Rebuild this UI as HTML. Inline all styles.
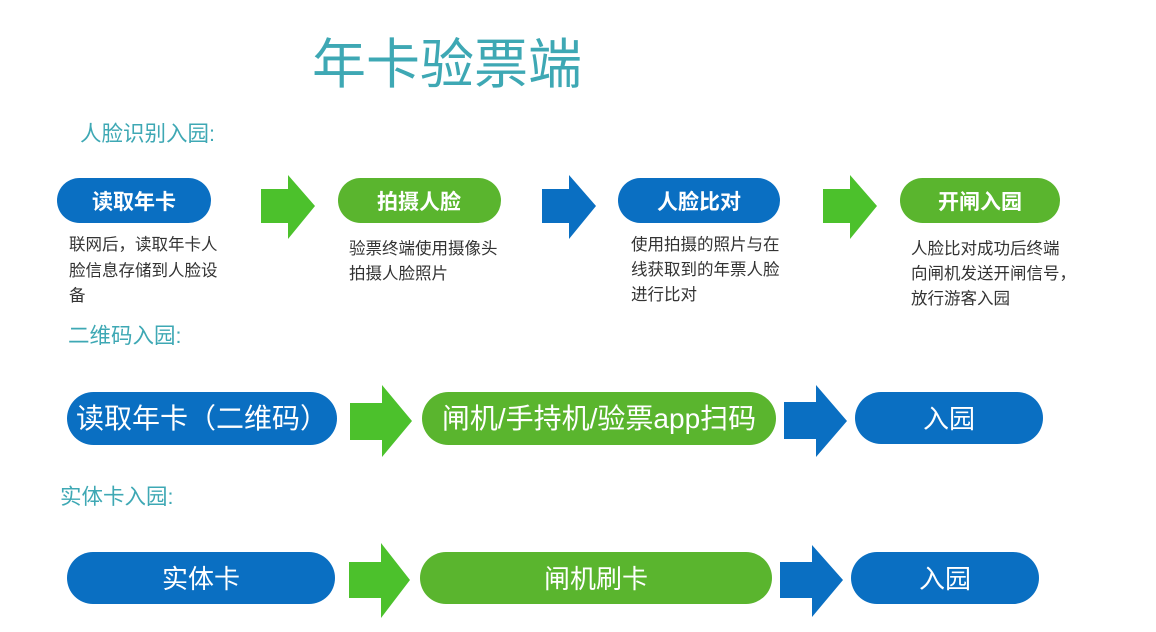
<!DOCTYPE html>
<html><head><meta charset="utf-8"><style>
body{margin:0;background:#fff;width:1156px;height:627px;overflow:hidden;font-family:"Liberation Sans","Noto Sans CJK SC",sans-serif}
svg text{font-family:"Liberation Sans","Noto Sans CJK SC",sans-serif}
</style></head><body>
<svg width="1156" height="627" xmlns="http://www.w3.org/2000/svg">
<text x="312" y="83" font-size="54" fill="#3ea8b4">年卡验票端</text>
<text x="80" y="141" font-size="21.5" fill="#3ea8b4">人脸识别入园:</text>
<text x="68" y="343" font-size="21.5" fill="#3ea8b4">二维码入园:</text>
<text x="60" y="504" font-size="21.5" fill="#3ea8b4">实体卡入园:</text>

<!-- row1 -->
<rect x="57" y="178" width="154" height="45" rx="22.5" fill="#0a6fc2"/>
<text x="134" y="209" font-size="21" font-weight="bold" fill="#fff" text-anchor="middle">读取年卡</text>
<polygon points="261,189 288,189 288,175 315,206 288,239 288,223 261,223" fill="#4cc12c"/>
<rect x="338" y="178" width="163" height="45" rx="22.5" fill="#5ab52e"/>
<text x="419" y="209" font-size="21" font-weight="bold" fill="#fff" text-anchor="middle">拍摄人脸</text>
<polygon points="542,189 569,189 569,175 596,206 569,239 569,223 542,223" fill="#0a6fc2"/>
<rect x="618" y="178" width="162" height="45" rx="22.5" fill="#0a6fc2"/>
<text x="699" y="209" font-size="21" font-weight="bold" fill="#fff" text-anchor="middle">人脸比对</text>
<polygon points="823,189 850,189 850,175 877,206 850,239 850,223 823,223" fill="#4cc12c"/>
<rect x="900" y="178" width="160" height="45" rx="22.5" fill="#5ab52e"/>
<text x="980" y="209" font-size="21" font-weight="bold" fill="#fff" text-anchor="middle">开闸入园</text>

<g font-size="16.5" fill="#333">
<text x="69" y="250">联网后，读取年卡人</text>
<text x="69" y="276">脸信息存储到人脸设</text>
<text x="69" y="301">备</text>
<text x="349" y="254">验票终端使用摄像头</text>
<text x="349" y="279">拍摄人脸照片</text>
<text x="631" y="250">使用拍摄的照片与在</text>
<text x="631" y="275">线获取到的年票人脸</text>
<text x="631" y="300">进行比对</text>
<text x="911" y="254">人脸比对成功后终端</text>
<text x="911" y="279">向闸机发送开闸信号，</text>
<text x="911" y="304">放行游客入园</text>
</g>

<!-- row2 -->
<rect x="67" y="392" width="270" height="53" rx="26.5" fill="#0a6fc2"/>
<text x="202" y="428" font-size="28" fill="#fff" text-anchor="middle">读取年卡（二维码）</text>
<polygon points="350,403 382,403 382,385 412,421 382,457 382,440 350,440" fill="#4cc12c"/>
<rect x="422" y="392" width="354" height="53" rx="26.5" fill="#5ab52e"/>
<text x="599" y="428" font-size="28" fill="#fff" text-anchor="middle">闸机/手持机/验票app扫码</text>
<polygon points="784,402 816,402 816,385 847,421 816,457 816,439 784,439" fill="#0a6fc2"/>
<rect x="855" y="392" width="188" height="52" rx="26" fill="#0a6fc2"/>
<text x="949" y="428" font-size="26" fill="#fff" text-anchor="middle">入园</text>

<!-- row3 -->
<rect x="67" y="552" width="268" height="52" rx="26" fill="#0a6fc2"/>
<text x="201" y="588" font-size="26" fill="#fff" text-anchor="middle">实体卡</text>
<polygon points="349,562 381,562 381,543 410,580 381,618 381,598 349,598" fill="#4cc12c"/>
<rect x="420" y="552" width="352" height="52" rx="26" fill="#5ab52e"/>
<text x="596" y="588" font-size="26" fill="#fff" text-anchor="middle">闸机刷卡</text>
<polygon points="780,562 812,562 812,545 843,580 812,617 812,598 780,598" fill="#0a6fc2"/>
<rect x="851" y="552" width="188" height="52" rx="26" fill="#0a6fc2"/>
<text x="945" y="588" font-size="26" fill="#fff" text-anchor="middle">入园</text>
</svg>
</body></html>
